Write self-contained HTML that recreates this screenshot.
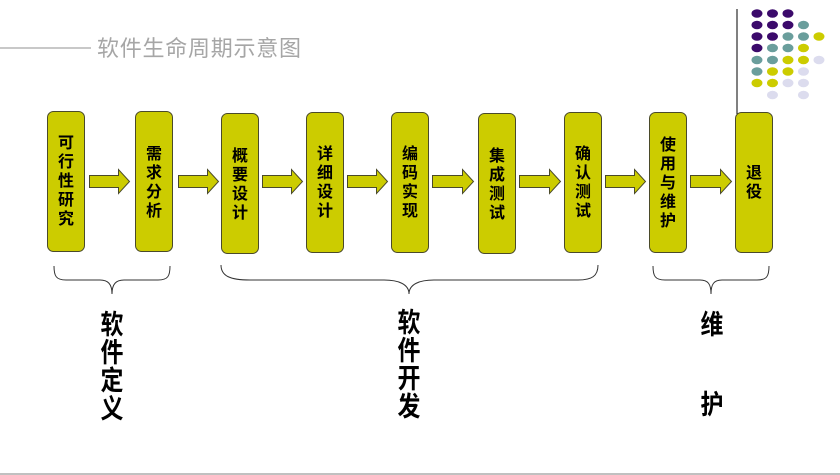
<!DOCTYPE html>
<html><head><meta charset="utf-8"><style>
html,body{margin:0;padding:0;background:#fff;}
svg{display:block;}
.bx{fill:#cccc00;stroke:#4a4a2a;stroke-width:1;}
.bt{font-family:"Liberation Sans","Noto Sans CJK SC",sans-serif;font-size:16px;font-weight:bold;fill:#000;text-anchor:middle;}
.ar{fill:#cccc00;stroke:#4a4a2a;stroke-width:1;}
.br{fill:none;stroke:#333;stroke-width:1;}
.lb{font-family:"Liberation Sans","Noto Sans CJK SC",sans-serif;font-size:27px;font-weight:bold;fill:#000;text-anchor:middle;}
</style></head><body>
<svg width="840" height="475" viewBox="0 0 840 475" xmlns="http://www.w3.org/2000/svg">
<line x1="0" y1="48" x2="91" y2="48" stroke="#a6a6a6" stroke-width="1.2"/>
<text x="97" y="56" font-family="'Liberation Sans','Noto Sans CJK SC',sans-serif" font-size="22" fill="#a6a6a6" textLength="204">软件生命周期示意图</text>
<line x1="737" y1="9" x2="737" y2="114" stroke="#000" stroke-width="1"/>
<g>
<ellipse cx="757" cy="13.5" rx="5.5" ry="4.3" fill="#3b0a6b"/><ellipse cx="772.5" cy="13.5" rx="5.5" ry="4.3" fill="#3b0a6b"/><ellipse cx="788" cy="13.5" rx="5.5" ry="4.3" fill="#3b0a6b"/>
<ellipse cx="757" cy="25" rx="5.5" ry="4.3" fill="#3b0a6b"/><ellipse cx="772.5" cy="25" rx="5.5" ry="4.3" fill="#3b0a6b"/><ellipse cx="788" cy="25" rx="5.5" ry="4.3" fill="#3b0a6b"/><ellipse cx="803.5" cy="25" rx="5.5" ry="4.3" fill="#6a9e9c"/>
<ellipse cx="757" cy="36.5" rx="5.5" ry="4.3" fill="#3b0a6b"/><ellipse cx="772.5" cy="36.5" rx="5.5" ry="4.3" fill="#3b0a6b"/><ellipse cx="788" cy="36.5" rx="5.5" ry="4.3" fill="#6a9e9c"/><ellipse cx="803.5" cy="36.5" rx="5.5" ry="4.3" fill="#6a9e9c"/><ellipse cx="819" cy="36.5" rx="5.5" ry="4.3" fill="#cccc00"/>
<ellipse cx="757" cy="48" rx="5.5" ry="4.3" fill="#3b0a6b"/><ellipse cx="772.5" cy="48" rx="5.5" ry="4.3" fill="#6a9e9c"/><ellipse cx="788" cy="48" rx="5.5" ry="4.3" fill="#6a9e9c"/><ellipse cx="803.5" cy="48" rx="5.5" ry="4.3" fill="#cccc00"/>
<ellipse cx="757" cy="60" rx="5.5" ry="4.3" fill="#6a9e9c"/><ellipse cx="772.5" cy="60" rx="5.5" ry="4.3" fill="#6a9e9c"/><ellipse cx="788" cy="60" rx="5.5" ry="4.3" fill="#cccc00"/><ellipse cx="803.5" cy="60" rx="5.5" ry="4.3" fill="#cccc00"/><ellipse cx="819" cy="60" rx="5.5" ry="4.3" fill="#dcdcee"/>
<ellipse cx="757" cy="71.5" rx="5.5" ry="4.3" fill="#6a9e9c"/><ellipse cx="772.5" cy="71.5" rx="5.5" ry="4.3" fill="#cccc00"/><ellipse cx="788" cy="71.5" rx="5.5" ry="4.3" fill="#cccc00"/><ellipse cx="803.5" cy="71.5" rx="5.5" ry="4.3" fill="#dcdcee"/>
<ellipse cx="757" cy="83" rx="5.5" ry="4.3" fill="#cccc00"/><ellipse cx="772.5" cy="83" rx="5.5" ry="4.3" fill="#cccc00"/><ellipse cx="788" cy="83" rx="5.5" ry="4.3" fill="#dcdcee"/><ellipse cx="803.5" cy="83" rx="5.5" ry="4.3" fill="#dcdcee"/>
<ellipse cx="772.5" cy="95" rx="5.5" ry="4.3" fill="#dcdcee"/><ellipse cx="803.5" cy="95" rx="5.5" ry="4.3" fill="#dcdcee"/>
</g>
<rect class="bx" x="47.5" y="111.5" width="37" height="140" rx="6"/>
<rect class="bx" x="135.5" y="111.5" width="37" height="140" rx="6"/>
<rect class="bx" x="221.5" y="113.5" width="37" height="140" rx="6"/>
<rect class="bx" x="306.5" y="112.5" width="37" height="140" rx="6"/>
<rect class="bx" x="391.5" y="112.5" width="37" height="140" rx="6"/>
<rect class="bx" x="478.5" y="113.5" width="37" height="140" rx="6"/>
<rect class="bx" x="564.5" y="112.5" width="37" height="140" rx="6"/>
<rect class="bx" x="649.5" y="112.5" width="37" height="140" rx="6"/>
<rect class="bx" x="735.5" y="112.5" width="37" height="140" rx="6"/>
<text class="bt"><tspan x="66" y="148">可</tspan><tspan x="66" y="167">行</tspan><tspan x="66" y="186">性</tspan><tspan x="66" y="205">研</tspan><tspan x="66" y="224">究</tspan></text>
<text class="bt"><tspan x="154" y="159">需</tspan><tspan x="154" y="178">求</tspan><tspan x="154" y="197">分</tspan><tspan x="154" y="216">析</tspan></text>
<text class="bt"><tspan x="240" y="161">概</tspan><tspan x="240" y="180">要</tspan><tspan x="240" y="199">设</tspan><tspan x="240" y="218">计</tspan></text>
<text class="bt"><tspan x="325" y="159">详</tspan><tspan x="325" y="178">细</tspan><tspan x="325" y="197">设</tspan><tspan x="325" y="216">计</tspan></text>
<text class="bt"><tspan x="410" y="159">编</tspan><tspan x="410" y="178">码</tspan><tspan x="410" y="197">实</tspan><tspan x="410" y="216">现</tspan></text>
<text class="bt"><tspan x="497" y="161">集</tspan><tspan x="497" y="180">成</tspan><tspan x="497" y="199">测</tspan><tspan x="497" y="218">试</tspan></text>
<text class="bt"><tspan x="583" y="159">确</tspan><tspan x="583" y="178">认</tspan><tspan x="583" y="197">测</tspan><tspan x="583" y="216">试</tspan></text>
<text class="bt"><tspan x="668" y="150">使</tspan><tspan x="668" y="169">用</tspan><tspan x="668" y="188">与</tspan><tspan x="668" y="207">维</tspan><tspan x="668" y="226">护</tspan></text>
<text class="bt"><tspan x="754" y="178">退</tspan><tspan x="754" y="197">役</tspan></text>
<g class="ar">
<path d="M89.5,175.5 H118.5 V169.5 L129.5,181.5 L118.5,193.5 V187.5 H89.5 Z"/>
<path d="M178.5,175.5 H207.5 V169.5 L218.5,181.5 L207.5,193.5 V187.5 H178.5 Z"/>
<path d="M262.5,175.5 H291.5 V169.5 L302.5,181.5 L291.5,193.5 V187.5 H262.5 Z"/>
<path d="M347.5,175.5 H376.5 V169.5 L387.5,181.5 L376.5,193.5 V187.5 H347.5 Z"/>
<path d="M432.5,175.5 H462.5 V169.5 L473.5,181.5 L462.5,193.5 V187.5 H432.5 Z"/>
<path d="M519.5,175.5 H549.5 V169.5 L560.5,181.5 L549.5,193.5 V187.5 H519.5 Z"/>
<path d="M605.5,175.5 H634.5 V169.5 L645.5,181.5 L634.5,193.5 V187.5 H605.5 Z"/>
<path d="M690.5,175.5 H720.5 V169.5 L731.5,181.5 L720.5,193.5 V187.5 H690.5 Z"/>
</g>
<path class="br" d="M54,266 C54,276 56,280 66,280 H100 C108,280 112,284 112,294 C112,284 116,280 124,280 H158 C168,280 170,276 170,266"/>
<path class="br" d="M221,265 C221,276 230,280 250,280 H384 C398,280 409,284 409,294 C409,284 420,280 434,280 H578 C592,280 598,276 598,265"/>
<path class="br" d="M653,266 C653,276 655,280 665,280 H700 C708,280 711,284 711,294 C711,284 714,280 722,280 H757 C767,280 769,276 769,266"/>
<g transform="translate(112,0) scale(0.85,1)"><text class="lb"><tspan x="0" y="334">软</tspan><tspan x="0" y="362">件</tspan><tspan x="0" y="390">定</tspan><tspan x="0" y="418">义</tspan></text></g>
<g transform="translate(409,0) scale(0.85,1)"><text class="lb"><tspan x="0" y="332">软</tspan><tspan x="0" y="360">件</tspan><tspan x="0" y="388">开</tspan><tspan x="0" y="416">发</tspan></text></g>
<g transform="translate(712,0) scale(0.85,1)"><text class="lb"><tspan x="0" y="334">维</tspan><tspan x="0" y="414">护</tspan></text></g>
<line x1="0" y1="474" x2="840" y2="474" stroke="#c0c0c0" stroke-width="2"/>
</svg>
</body></html>
